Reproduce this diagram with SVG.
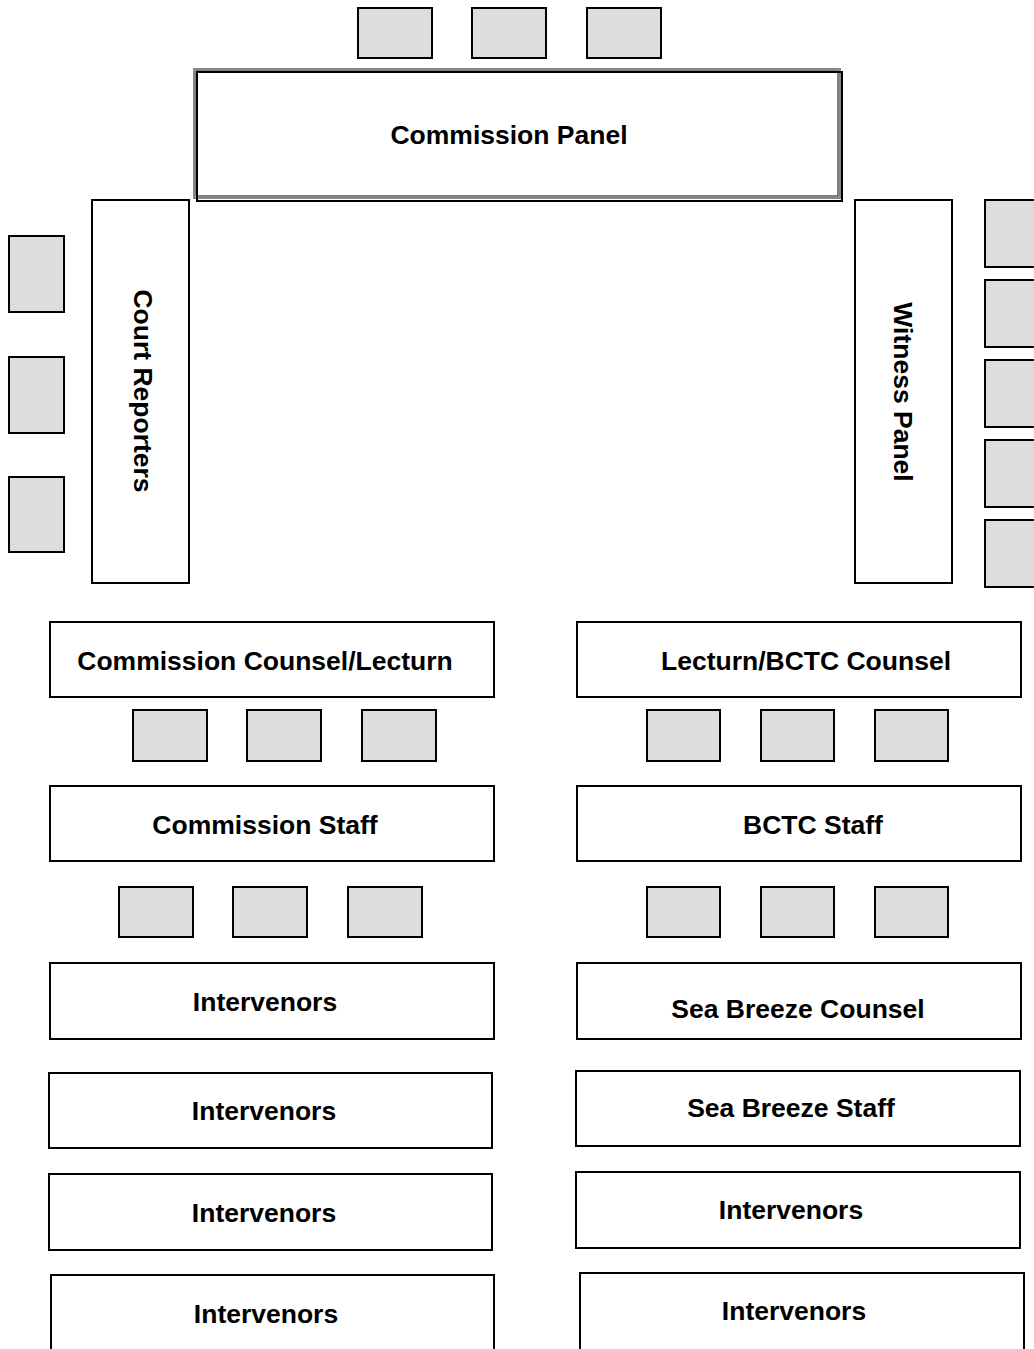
<svg xmlns="http://www.w3.org/2000/svg" width="1034" height="1349" viewBox="0 0 1034 1349">
<style>
.box{fill:#fff;stroke:#000;stroke-width:2}
.chair{fill:#dddddd;stroke:#000;stroke-width:2}
text{font-family:"Liberation Sans",Arial,sans-serif;font-weight:bold;font-size:26.5px;fill:#000;text-anchor:middle}
</style>
<rect width="1034" height="1349" fill="#fff"/>
<g id="chairs-top">
<rect class="chair" x="358" y="8" width="74" height="50"/>
<rect class="chair" x="472" y="8" width="74" height="50"/>
<rect class="chair" x="587" y="8" width="74" height="50"/>
</g>
<g id="commission-panel">
<rect x="194" y="69" width="646" height="129" fill="#fff" stroke="#888" stroke-width="2"/>
<rect x="197" y="72" width="645" height="129" fill="none" stroke="#000" stroke-width="2"/>
<rect x="196" y="71" width="642" height="125" fill="none" stroke="#000" stroke-width="1"/>
<text x="509" y="144">Commission Panel</text>
</g>
<g id="court-reporters">
<rect class="box" x="92" y="200" width="97" height="383"/>
<text transform="translate(134,391) rotate(90)">Court Reporters</text>
</g>
<g id="chairs-left">
<rect class="chair" x="9" y="236" width="55" height="76"/>
<rect class="chair" x="9" y="357" width="55" height="76"/>
<rect class="chair" x="9" y="477" width="55" height="75"/>
</g>
<g id="witness-panel">
<rect class="box" x="855" y="200" width="97" height="383"/>
<text transform="translate(894,392) rotate(90)">Witness Panel</text>
</g>
<g id="chairs-right">
<rect class="chair" x="985" y="200" width="60" height="67"/>
<rect class="chair" x="985" y="280" width="60" height="67"/>
<rect class="chair" x="985" y="360" width="60" height="67"/>
<rect class="chair" x="985" y="440" width="60" height="67"/>
<rect class="chair" x="985" y="520" width="60" height="67"/>
</g>
<g id="commission-counsel">
<rect class="box" x="50" y="622" width="444" height="75"/>
<text x="265" y="670">Commission Counsel/Lecturn</text>
</g>
<g id="bctc-counsel">
<rect class="box" x="577" y="622" width="444" height="75"/>
<text x="806" y="670">Lecturn/BCTC Counsel</text>
</g>
<g id="chairs-row1">
<rect class="chair" x="133" y="710" width="74" height="51"/>
<rect class="chair" x="247" y="710" width="74" height="51"/>
<rect class="chair" x="362" y="710" width="74" height="51"/>
<rect class="chair" x="647" y="710" width="73" height="51"/>
<rect class="chair" x="761" y="710" width="73" height="51"/>
<rect class="chair" x="875" y="710" width="73" height="51"/>
</g>
<g id="commission-staff">
<rect class="box" x="50" y="786" width="444" height="75"/>
<text x="265" y="834">Commission Staff</text>
</g>
<g id="bctc-staff">
<rect class="box" x="577" y="786" width="444" height="75"/>
<text x="813" y="834">BCTC Staff</text>
</g>
<g id="chairs-row2">
<rect class="chair" x="119" y="887" width="74" height="50"/>
<rect class="chair" x="233" y="887" width="74" height="50"/>
<rect class="chair" x="348" y="887" width="74" height="50"/>
<rect class="chair" x="647" y="887" width="73" height="50"/>
<rect class="chair" x="761" y="887" width="73" height="50"/>
<rect class="chair" x="875" y="887" width="73" height="50"/>
</g>
<g id="intervenors-l1">
<rect class="box" x="50" y="963" width="444" height="76"/>
<text x="265" y="1011">Intervenors</text>
</g>
<g id="sea-breeze-counsel">
<rect class="box" x="577" y="963" width="444" height="76"/>
<text x="798" y="1018">Sea Breeze Counsel</text>
</g>
<g id="intervenors-l2">
<rect class="box" x="49" y="1073" width="443" height="75"/>
<text x="264" y="1120">Intervenors</text>
</g>
<g id="sea-breeze-staff">
<rect class="box" x="576" y="1071" width="444" height="75"/>
<text x="791" y="1117">Sea Breeze Staff</text>
</g>
<g id="intervenors-l3">
<rect class="box" x="49" y="1174" width="443" height="76"/>
<text x="264" y="1222">Intervenors</text>
</g>
<g id="intervenors-r3">
<rect class="box" x="576" y="1172" width="444" height="76"/>
<text x="791" y="1219">Intervenors</text>
</g>
<g id="intervenors-l4">
<rect class="box" x="51" y="1275" width="443" height="90"/>
<text x="266" y="1323">Intervenors</text>
</g>
<g id="intervenors-r4">
<rect class="box" x="580" y="1273" width="444" height="90"/>
<text x="794" y="1320">Intervenors</text>
</g>
<g id="connectors"></g>
</svg>
